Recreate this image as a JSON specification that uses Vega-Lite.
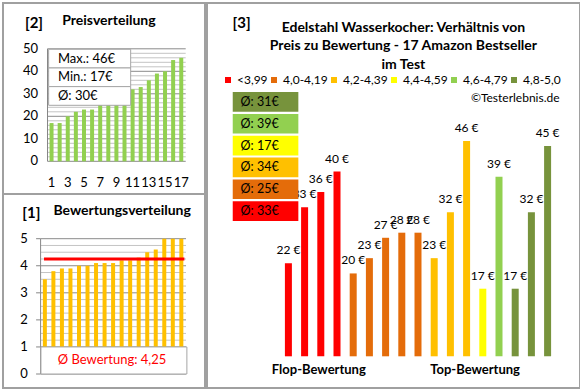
{
  "$schema": "https://vega.github.io/schema/vega-lite/v6.json",
  "padding": {"left": 2, "top": 2, "right": 3, "bottom": 3},
  "background": "white",
  "spacing": 0,
  "config": {
    "font": "Lato",
    "view": {"stroke": "#a0a0a0", "strokeWidth": 2},
    "text": {"font": "Lato", "color": "#000000"},
    "legend": {"labelFont": "Lato"},
    "locale": {"number": {"decimal": ",", "thousands": ".", "grouping": [3], "currency": ["", " €"]}}
  },
  "datasets": {
    "prices": [
      {"rank": 1, "price": 17}, {"rank": 2, "price": 17}, {"rank": 3, "price": 20}, {"rank": 4, "price": 22},
      {"rank": 5, "price": 23}, {"rank": 6, "price": 23}, {"rank": 7, "price": 27}, {"rank": 8, "price": 28},
      {"rank": 9, "price": 28}, {"rank": 10, "price": 32}, {"rank": 11, "price": 32}, {"rank": 12, "price": 33},
      {"rank": 13, "price": 36}, {"rank": 14, "price": 39}, {"rank": 15, "price": 40}, {"rank": 16, "price": 45},
      {"rank": 17, "price": 46}
    ],
    "priceTicks": [
      {"v": 0}, {"v": 2}, {"v": 4}, {"v": 6}, {"v": 8}, {"v": 10}, {"v": 12}, {"v": 14}, {"v": 16}, {"v": 18},
      {"v": 20}, {"v": 22}, {"v": 24}, {"v": 26}, {"v": 28}, {"v": 30}, {"v": 32}, {"v": 34}, {"v": 36}, {"v": 38},
      {"v": 40}, {"v": 42}, {"v": 44}, {"v": 46}, {"v": 48}, {"v": 50}
    ],
    "ratings": [
      {"rank": 1, "rating": 3.5}, {"rank": 2, "rating": 3.8}, {"rank": 3, "rating": 3.9}, {"rank": 4, "rating": 3.9},
      {"rank": 5, "rating": 4.0}, {"rank": 6, "rating": 4.0}, {"rank": 7, "rating": 4.1}, {"rank": 8, "rating": 4.1},
      {"rank": 9, "rating": 4.1}, {"rank": 10, "rating": 4.2}, {"rank": 11, "rating": 4.2}, {"rank": 12, "rating": 4.3},
      {"rank": 13, "rating": 4.5}, {"rank": 14, "rating": 4.6}, {"rank": 15, "rating": 5.0}, {"rank": 16, "rating": 5.0},
      {"rank": 17, "rating": 5.0}
    ],
    "ratingTicks": [
      {"v": 0}, {"v": 0.25}, {"v": 0.5}, {"v": 0.75}, {"v": 1}, {"v": 1.25}, {"v": 1.5}, {"v": 1.75},
      {"v": 2}, {"v": 2.25}, {"v": 2.5}, {"v": 2.75}, {"v": 3}, {"v": 3.25}, {"v": 3.5}, {"v": 3.75},
      {"v": 4}, {"v": 4.25}, {"v": 4.5}, {"v": 4.75}, {"v": 5}
    ],
    "products": [
      {"rank": 1, "price": 22, "group": "<3,99"}, {"rank": 2, "price": 33, "group": "<3,99"},
      {"rank": 3, "price": 36, "group": "<3,99"}, {"rank": 4, "price": 40, "group": "<3,99"},
      {"rank": 5, "price": 20, "group": "4,0-4,19"}, {"rank": 6, "price": 23, "group": "4,0-4,19"},
      {"rank": 7, "price": 27, "group": "4,0-4,19"}, {"rank": 8, "price": 28, "group": "4,0-4,19"},
      {"rank": 9, "price": 28, "group": "4,0-4,19"}, {"rank": 10, "price": 23, "group": "4,2-4,39"},
      {"rank": 11, "price": 32, "group": "4,2-4,39"}, {"rank": 12, "price": 46, "group": "4,2-4,39"},
      {"rank": 13, "price": 17, "group": "4,4-4,59"}, {"rank": 14, "price": 39, "group": "4,6-4,79"},
      {"rank": 15, "price": 17, "group": "4,8-5,0"}, {"rank": 16, "price": 32, "group": "4,8-5,0"},
      {"rank": 17, "price": 45, "group": "4,8-5,0"}
    ],
    "averages": [
      {"group": "4,8-5,0", "label": "Ø: 31€"}, {"group": "4,6-4,79", "label": "Ø: 39€"},
      {"group": "4,4-4,59", "label": "Ø: 17€"}, {"group": "4,2-4,39", "label": "Ø: 34€"},
      {"group": "4,0-4,19", "label": "Ø: 25€"}, {"group": "<3,99", "label": "Ø: 33€"}
    ]
  },
  "hconcat": [
    {
      "spacing": 0,
      "bounds": "flush",
      "vconcat": [
        {
          "width": 202,
          "height": 191,
          "layer": [
            {
              "data": {"name": "priceTicks"},
              "mark": {"type": "rule", "strokeWidth": 1},
              "encoding": {
                "x": {"datum": 0.5, "type": "quantitative", "scale": {"domain": [0.5, 17.5], "range": [39.5, 187.3], "nice": false}, "axis": null},
                "x2": {"datum": 17.55},
                "y": {"field": "v", "type": "quantitative", "scale": {"domain": [0, 50], "range": [158.3, 45.8], "nice": false}, "axis": null},
                "color": {"condition": {"test": "datum.v % 10 === 0", "value": "#8a8a8a"}, "value": "#c4c4c4"}
              }
            },
            {
              "data": {"values": [{}]},
              "mark": {"type": "rule", "strokeWidth": 1, "color": "#868686"},
              "encoding": {
                "x": {"datum": 0.5, "type": "quantitative", "scale": {"domain": [0.5, 17.5], "range": [39.5, 187.3], "nice": false}, "axis": null},
                "y": {"datum": 0, "type": "quantitative", "scale": {"domain": [0, 50], "range": [158.3, 45.8], "nice": false}, "axis": null},
                "y2": {"datum": 50}
              }
            },
            {
              "data": {"name": "prices"},
              "mark": {"type": "bar", "color": "#92D050", "size": 4},
              "encoding": {
                "x": {"field": "rank", "type": "quantitative", "scale": {"domain": [0.5, 17.5], "range": [39.5, 187.3], "nice": false}, "axis": null},
                "y": {"field": "price", "type": "quantitative", "scale": {"domain": [0, 50], "range": [158.3, 45.8], "nice": false}, "axis": null}
              }
            },
            {
              "data": {"name": "priceTicks"},
              "transform": [{"filter": "datum.v % 10 === 0"}],
              "mark": {"type": "text", "fontSize": 13, "align": "right", "baseline": "middle"},
              "encoding": {
                "x": {"datum": -0.673, "type": "quantitative", "scale": {"domain": [0.5, 17.5], "range": [39.5, 187.3], "nice": false}, "axis": null},
                "y": {"field": "v", "type": "quantitative", "scale": {"domain": [0, 50], "range": [158.3, 45.8], "nice": false}, "axis": null},
                "text": {"field": "v", "type": "quantitative", "format": "d"}
              }
            },
            {
              "data": {"name": "prices"},
              "transform": [{"filter": "datum.rank % 2 === 1"}],
              "mark": {"type": "text", "fontSize": 13, "align": "center", "baseline": "middle"},
              "encoding": {
                "x": {"field": "rank", "type": "quantitative", "scale": {"domain": [0.5, 17.5], "range": [39.5, 187.3], "nice": false}, "axis": null},
                "y": {"datum": -9.6, "type": "quantitative", "scale": {"domain": [0, 50], "range": [158.3, 45.8], "nice": false}, "axis": null},
                "text": {"field": "rank", "type": "quantitative", "format": "d"}
              }
            },
            {
              "data": {"values": [{}]},
              "mark": {"type": "rect", "fill": "#ffffff", "stroke": "#a6a6a6", "strokeWidth": 1},
              "encoding": {
                "x": {"datum": 0.64, "type": "quantitative", "scale": {"domain": [0.5, 17.5], "range": [39.5, 187.3], "nice": false}, "axis": null},
                "x2": {"datum": 10.76},
                "y": {"datum": 41.48, "type": "quantitative", "scale": {"domain": [0, 50], "range": [158.3, 45.8], "nice": false}, "axis": null},
                "y2": {"datum": 49.78}
              }
            },
            {
              "data": {"values": [{}]},
              "mark": {"type": "rect", "fill": "#ffffff", "stroke": "#a6a6a6", "strokeWidth": 1},
              "encoding": {
                "x": {"datum": 0.64, "type": "quantitative", "scale": {"domain": [0.5, 17.5], "range": [39.5, 187.3], "nice": false}, "axis": null},
                "x2": {"datum": 10.76},
                "y": {"datum": 33.19, "type": "quantitative", "scale": {"domain": [0, 50], "range": [158.3, 45.8], "nice": false}, "axis": null},
                "y2": {"datum": 41.48}
              }
            },
            {
              "data": {"values": [{}]},
              "mark": {"type": "rect", "fill": "#ffffff", "stroke": "#a6a6a6", "strokeWidth": 1},
              "encoding": {
                "x": {"datum": 0.64, "type": "quantitative", "scale": {"domain": [0.5, 17.5], "range": [39.5, 187.3], "nice": false}, "axis": null},
                "x2": {"datum": 10.76},
                "y": {"datum": 24.89, "type": "quantitative", "scale": {"domain": [0, 50], "range": [158.3, 45.8], "nice": false}, "axis": null},
                "y2": {"datum": 33.19}
              }
            },
            {
              "data": {"values": [{}]},
              "mark": {"type": "text", "fontSize": 13, "align": "left", "baseline": "middle"},
              "encoding": {
                "x": {"datum": 1.79, "type": "quantitative", "scale": {"domain": [0.5, 17.5], "range": [39.5, 187.3], "nice": false}, "axis": null},
                "y": {"datum": 45.63, "type": "quantitative", "scale": {"domain": [0, 50], "range": [158.3, 45.8], "nice": false}, "axis": null},
                "text": {"value": "Max.: 46€"}
              }
            },
            {
              "data": {"values": [{}]},
              "mark": {"type": "text", "fontSize": 13, "align": "left", "baseline": "middle"},
              "encoding": {
                "x": {"datum": 1.79, "type": "quantitative", "scale": {"domain": [0.5, 17.5], "range": [39.5, 187.3], "nice": false}, "axis": null},
                "y": {"datum": 37.33, "type": "quantitative", "scale": {"domain": [0, 50], "range": [158.3, 45.8], "nice": false}, "axis": null},
                "text": {"value": "Min.: 17€"}
              }
            },
            {
              "data": {"values": [{}]},
              "mark": {"type": "text", "fontSize": 13, "align": "left", "baseline": "middle"},
              "encoding": {
                "x": {"datum": 1.79, "type": "quantitative", "scale": {"domain": [0.5, 17.5], "range": [39.5, 187.3], "nice": false}, "axis": null},
                "y": {"datum": 29.04, "type": "quantitative", "scale": {"domain": [0, 50], "range": [158.3, 45.8], "nice": false}, "axis": null},
                "text": {"value": "Ø: 30€"}
              }
            },
            {
              "data": {"values": [{}]},
              "mark": {"type": "text", "fontSize": 15, "fontWeight": "bold", "align": "left", "baseline": "alphabetic"},
              "encoding": {
                "x": {"datum": -2.28, "type": "quantitative", "scale": {"domain": [0.5, 17.5], "range": [39.5, 187.3], "nice": false}, "axis": null},
                "y": {"datum": 59.2, "type": "quantitative", "scale": {"domain": [0, 50], "range": [158.3, 45.8], "nice": false}, "axis": null},
                "text": {"value": "[2]"}
              }
            },
            {
              "data": {"values": [{}]},
              "mark": {"type": "text", "fontSize": 14, "fontWeight": "bold", "align": "left", "baseline": "alphabetic"},
              "encoding": {
                "x": {"datum": 2.32, "type": "quantitative", "scale": {"domain": [0.5, 17.5], "range": [39.5, 187.3], "nice": false}, "axis": null},
                "y": {"datum": 60.4, "type": "quantitative", "scale": {"domain": [0, 50], "range": [158.3, 45.8], "nice": false}, "axis": null},
                "text": {"value": "Preisverteilung"}
              }
            }
          ]
        },
        {
          "width": 202,
          "height": 194,
          "layer": [
            {
              "data": {"name": "ratingTicks"},
              "mark": {"type": "rule", "strokeWidth": 1},
              "encoding": {
                "x": {"datum": 0.5, "type": "quantitative", "scale": {"domain": [0.5, 17.5], "range": [32.6, 187.6], "nice": false}, "axis": null},
                "x2": {"datum": 17.55},
                "y": {"field": "v", "type": "quantitative", "scale": {"domain": [0, 5], "range": [180, 44.7], "nice": false}, "axis": null},
                "color": {"condition": {"test": "datum.v % 1 === 0", "value": "#8a8a8a"}, "value": "#c4c4c4"}
              }
            },
            {
              "data": {"name": "ratingTicks"},
              "transform": [{"filter": "datum.v % 1 === 0"}],
              "mark": {"type": "rule", "strokeWidth": 1, "color": "#868686"},
              "encoding": {
                "x": {"datum": -0.03, "type": "quantitative", "scale": {"domain": [0.5, 17.5], "range": [32.6, 187.6], "nice": false}, "axis": null},
                "x2": {"datum": 0.5},
                "y": {"field": "v", "type": "quantitative", "scale": {"domain": [0, 5], "range": [180, 44.7], "nice": false}, "axis": null}
              }
            },
            {
              "data": {"values": [{}]},
              "mark": {"type": "rule", "strokeWidth": 1, "color": "#868686"},
              "encoding": {
                "x": {"datum": 0.5, "type": "quantitative", "scale": {"domain": [0.5, 17.5], "range": [32.6, 187.6], "nice": false}, "axis": null},
                "y": {"datum": 0, "type": "quantitative", "scale": {"domain": [0, 5], "range": [180, 44.7], "nice": false}, "axis": null},
                "y2": {"datum": 5}
              }
            },
            {
              "data": {"name": "ratings"},
              "mark": {"type": "bar", "color": "#FFC000", "size": 4},
              "encoding": {
                "x": {"field": "rank", "type": "quantitative", "scale": {"domain": [0.5, 17.5], "range": [32.6, 187.6], "nice": false}, "axis": null},
                "y": {"field": "rating", "type": "quantitative", "scale": {"domain": [0, 5], "range": [180, 44.7], "nice": false}, "axis": null}
              }
            },
            {
              "data": {"name": "ratingTicks"},
              "transform": [{"filter": "datum.v % 1 === 0"}],
              "mark": {"type": "text", "fontSize": 13, "align": "right", "baseline": "middle"},
              "encoding": {
                "x": {"datum": -0.99, "type": "quantitative", "scale": {"domain": [0.5, 17.5], "range": [32.6, 187.6], "nice": false}, "axis": null},
                "y": {"field": "v", "type": "quantitative", "scale": {"domain": [0, 5], "range": [180, 44.7], "nice": false}, "axis": null},
                "text": {"field": "v", "type": "quantitative", "format": "d"}
              }
            },
            {
              "data": {"values": [{}]},
              "mark": {"type": "rule", "color": "#FF0000", "strokeWidth": 3},
              "encoding": {
                "x": {"datum": 0.9, "type": "quantitative", "scale": {"domain": [0.5, 17.5], "range": [32.6, 187.6], "nice": false}, "axis": null},
                "x2": {"datum": 17.36},
                "y": {"datum": 4.25, "type": "quantitative", "scale": {"domain": [0, 5], "range": [180, 44.7], "nice": false}, "axis": null}
              }
            },
            {
              "data": {"values": [{}]},
              "mark": {"type": "rect", "fill": "#ffffff", "stroke": "#a6a6a6", "strokeWidth": 1},
              "encoding": {
                "x": {"datum": 0.54, "type": "quantitative", "scale": {"domain": [0.5, 17.5], "range": [32.6, 187.6], "nice": false}, "axis": null},
                "x2": {"datum": 17.65},
                "y": {"datum": 0, "type": "quantitative", "scale": {"domain": [0, 5], "range": [180, 44.7], "nice": false}, "axis": null},
                "y2": {"datum": 1}
              }
            },
            {
              "data": {"values": [{}]},
              "mark": {"type": "text", "fontSize": 13, "color": "#FF0000", "align": "center", "baseline": "middle"},
              "encoding": {
                "x": {"datum": 8.88, "type": "quantitative", "scale": {"domain": [0.5, 17.5], "range": [32.6, 187.6], "nice": false}, "axis": null},
                "y": {"datum": 0.5, "type": "quantitative", "scale": {"domain": [0, 5], "range": [180, 44.7], "nice": false}, "axis": null},
                "text": {"value": "Ø Bewertung: 4,25"}
              }
            },
            {
              "data": {"values": [{}]},
              "mark": {"type": "text", "fontSize": 15, "fontWeight": "bold", "align": "left", "baseline": "alphabetic"},
              "encoding": {
                "x": {"datum": -1.65, "type": "quantitative", "scale": {"domain": [0.5, 17.5], "range": [32.6, 187.6], "nice": false}, "axis": null},
                "y": {"datum": 5.754, "type": "quantitative", "scale": {"domain": [0, 5], "range": [180, 44.7], "nice": false}, "axis": null},
                "text": {"value": "[1]"}
              }
            },
            {
              "data": {"values": [{}]},
              "mark": {"type": "text", "fontSize": 14, "fontWeight": "bold", "align": "left", "baseline": "alphabetic"},
              "encoding": {
                "x": {"datum": 2.0, "type": "quantitative", "scale": {"domain": [0.5, 17.5], "range": [32.6, 187.6], "nice": false}, "axis": null},
                "y": {"datum": 5.865, "type": "quantitative", "scale": {"domain": [0, 5], "range": [180, 44.7], "nice": false}, "axis": null},
                "text": {"value": "Bewertungsverteilung"}
              }
            }
          ]
        }
      ]
    },
    {
      "width": 373,
      "height": 385,
      "resolve": {"scale": {"y": "independent"}},
      "layer": [
        {
          "layer": [
            {
              "data": {"name": "products"},
              "mark": {"type": "bar", "size": 7, "orient": "vertical"},
              "encoding": {
                "x": {"field": "rank", "type": "quantitative", "scale": {"domain": [0.5, 17.5], "range": [68.3, 353.7], "nice": false}, "axis": null},
                "y": {"field": "price", "type": "quantitative", "scale": {"domain": [0, 60], "range": [372.3, 66.7], "nice": false}, "axis": null},
                "y2": {"datum": 3.73},
                "color": {"field": "group", "type": "nominal",
                  "scale": {"domain": ["<3,99", "4,0-4,19", "4,2-4,39", "4,4-4,59", "4,6-4,79", "4,8-5,0"], "range": ["#FF0000", "#E46C0A", "#FFC000", "#FFFF00", "#92D050", "#77933C"]},
                  "legend": {"orient": "none", "legendX": 219, "legendY": 71, "direction": "horizontal", "columns": 6, "title": null, "padding": 0,
                    "symbolType": "square", "symbolSize": 36, "symbolStrokeWidth": 0, "labelFontSize": 12, "labelColor": "#000000",
                    "labelOffset": 3, "columnPadding": 0, "labelLimit": 200}}
              }
            },
            {
              "data": {"name": "products"},
              "mark": {"type": "text", "fontSize": 12, "baseline": "alphabetic", "align": "center", "dy": -9},
              "encoding": {
                "x": {"field": "rank", "type": "quantitative", "scale": {"domain": [0.5, 17.5], "range": [68.3, 353.7], "nice": false}, "axis": null},
                "y": {"field": "price", "type": "quantitative", "scale": {"domain": [0, 60], "range": [372.3, 66.7], "nice": false}, "axis": null},
                "text": {"field": "price", "type": "quantitative", "format": "$d"}
              }
            },
            {
              "data": {"values": [{}]},
              "mark": {"type": "text", "fontSize": 14, "fontWeight": "bold", "align": "center", "baseline": "alphabetic", "lineHeight": 18.8},
              "encoding": {
                "x": {"datum": 8.1, "type": "quantitative", "scale": {"domain": [0.5, 17.5], "range": [68.3, 353.7], "nice": false}, "axis": null},
                "y": {"datum": 67.47, "type": "quantitative", "scale": {"domain": [0, 60], "range": [372.3, 66.7], "nice": false}, "axis": null},
                "text": {"value": ["Edelstahl Wasserkocher: Verhältnis von", "Preis zu Bewertung - 17 Amazon Bestseller", "im Test"]}
              }
            },
            {
              "data": {"values": [{}]},
              "mark": {"type": "text", "fontSize": 15, "fontWeight": "bold", "align": "left", "baseline": "alphabetic"},
              "encoding": {
                "x": {"datum": -2.45, "type": "quantitative", "scale": {"domain": [0.5, 17.5], "range": [68.3, 353.7], "nice": false}, "axis": null},
                "y": {"datum": 68.13, "type": "quantitative", "scale": {"domain": [0, 60], "range": [372.3, 66.7], "nice": false}, "axis": null},
                "text": {"value": "[3]"}
              }
            },
            {
              "data": {"values": [{}]},
              "mark": {"type": "text", "fontSize": 12, "align": "right", "baseline": "alphabetic"},
              "encoding": {
                "x": {"datum": 17.74, "type": "quantitative", "scale": {"domain": [0.5, 17.5], "range": [68.3, 353.7], "nice": false}, "axis": null},
                "y": {"datum": 53.66, "type": "quantitative", "scale": {"domain": [0, 60], "range": [372.3, 66.7], "nice": false}, "axis": null},
                "text": {"value": "©Testerlebnis.de"}
              }
            },
            {
              "data": {"values": [{}]},
              "mark": {"type": "text", "fontSize": 13, "fontWeight": "bold", "align": "center", "baseline": "alphabetic"},
              "encoding": {
                "x": {"datum": 2.877, "type": "quantitative", "scale": {"domain": [0.5, 17.5], "range": [68.3, 353.7], "nice": false}, "axis": null},
                "y": {"datum": 0.2, "type": "quantitative", "scale": {"domain": [0, 60], "range": [372.3, 66.7], "nice": false}, "axis": null},
                "text": {"value": "Flop-Bewertung"}
              }
            },
            {
              "data": {"values": [{}]},
              "mark": {"type": "text", "fontSize": 13, "fontWeight": "bold", "align": "center", "baseline": "alphabetic"},
              "encoding": {
                "x": {"datum": 12.525, "type": "quantitative", "scale": {"domain": [0.5, 17.5], "range": [68.3, 353.7], "nice": false}, "axis": null},
                "y": {"datum": 0.2, "type": "quantitative", "scale": {"domain": [0, 60], "range": [372.3, 66.7], "nice": false}, "axis": null},
                "text": {"value": "Top-Bewertung"}
              }
            }
          ]
        },
        {
          "data": {"name": "averages"},
          "encoding": {
            "y": {"field": "group", "type": "ordinal", "sort": ["4,8-5,0", "4,6-4,79", "4,4-4,59", "4,2-4,39", "4,0-4,19", "<3,99"],
              "scale": {"range": [88, 219], "paddingInner": 0.1, "paddingOuter": 0.05}, "axis": null}
          },
          "layer": [
            {
              "mark": {"type": "rect"},
              "encoding": {
                "x": {"datum": -2.436, "type": "quantitative", "scale": {"domain": [0.5, 17.5], "range": [68.3, 353.7], "nice": false}, "axis": null},
                "x2": {"datum": 1.614},
                "color": {"field": "group", "type": "nominal",
                  "scale": {"domain": ["<3,99", "4,0-4,19", "4,2-4,39", "4,4-4,59", "4,6-4,79", "4,8-5,0"], "range": ["#FF0000", "#E46C0A", "#FFC000", "#FFFF00", "#92D050", "#77933C"]},
                  "legend": {"orient": "none", "legendX": 219, "legendY": 71, "direction": "horizontal", "columns": 6, "title": null, "padding": 0,
                    "symbolType": "square", "symbolSize": 36, "symbolStrokeWidth": 0, "labelFontSize": 12, "labelColor": "#000000",
                    "labelOffset": 3, "columnPadding": 0, "labelLimit": 200}}
              }
            },
            {
              "mark": {"type": "text", "align": "left", "baseline": "middle", "fontSize": 12.5},
              "encoding": {
                "x": {"datum": -1.95, "type": "quantitative", "scale": {"domain": [0.5, 17.5], "range": [68.3, 353.7], "nice": false}, "axis": null},
                "text": {"field": "label"}
              }
            }
          ]
        }
      ]
    }
  ]
}
